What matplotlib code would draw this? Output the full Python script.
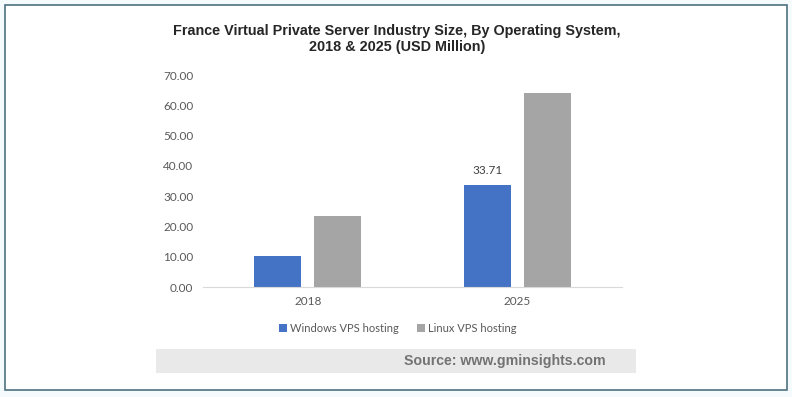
import matplotlib
matplotlib.use("Agg")
import matplotlib.pyplot as plt
from matplotlib.patches import Rectangle
import numpy as np

categories = ["2018", "2025"]
windows = [10.3, 33.71]
linux = [23.5, 64.1]
series_names = ["Windows VPS hosting", "Linux VPS hosting"]
yticks = [0, 10, 20, 30, 40, 50, 60, 70]

plt.rcParams["font.family"] = ["Lato", "DejaVu Sans"]

W, H = 792, 397
fig = plt.figure(figsize=(W / 100, H / 100), dpi=100)
fig.patch.set_facecolor("#f5fbfd")

# white panel with border
fig.patches.append(Rectangle((5 / W, 1 - 390 / H), 782 / W, 385 / H, transform=fig.transFigure,
                             facecolor="white", edgecolor="#4f7180", linewidth=1.2, zorder=-10))

ax = fig.add_axes([203 / W, 1 - 287.3 / H, 419 / W, (287.3 - 75) / H])
ax.set_zorder(5)
ax.set_facecolor("none")
x = np.arange(len(categories))
bw = 0.224
off = 0.143
ax.bar(x - off, windows, bw, color="#4472c4", label=series_names[0], zorder=2)
ax.bar(x + off, linux, bw, color="#a5a5a5", label=series_names[1], zorder=2)
ax.set_xlim(-0.5, 1.5)
ax.set_ylim(0, 70)
ax.set_yticks(yticks)
ax.set_yticklabels([f"{v:.2f}" for v in yticks])
ax.set_xticks(x)
ax.set_xticklabels(categories)
for s in ["top", "right", "left"]:
    ax.spines[s].set_visible(False)
ax.spines["bottom"].set_color("#d9d9d9")
ax.tick_params(axis="both", length=0, colors="#595959", labelsize=8.5)
ax.tick_params(axis="y", pad=7)
ax.tick_params(axis="x", pad=6)
ax.text(x[1] - off, windows[1] + 3, f"{windows[1]:.2f}", ha="center", va="bottom",
        fontsize=8.5, color="#404040")

fig.text(397 / W, 1 - 31 / H, "France Virtual Private Server Industry Size, By Operating System,",
         ha="center", va="center", fontsize=10.4, fontweight="bold", family="Liberation Sans",
         color="#262626")
fig.text(397 / W, 1 - 47 / H, "2018 & 2025 (USD Million)",
         ha="center", va="center", fontsize=10.4, fontweight="bold", family="Liberation Sans",
         color="#262626")

fig.legend(loc="center", bbox_to_anchor=(398 / W, 1 - 328 / H), ncol=2, frameon=False,
           fontsize=8, handlelength=0.7, handleheight=0.7, handletextpad=0.3, columnspacing=1.6,
           labelcolor="#595959")

fig.patches.append(Rectangle((156 / W, 1 - 373 / H), 480 / W, 24 / H, transform=fig.transFigure,
                             facecolor="#e9e9e9", edgecolor="none", zorder=1))
fig.text(606 / W, 1 - 361 / H, "Source: www.gminsights.com", ha="right", va="center",
         fontsize=10.2, fontweight="bold", family="Liberation Sans", color="#737373")

fig.savefig("out.png", dpi=100, facecolor=fig.get_facecolor())
